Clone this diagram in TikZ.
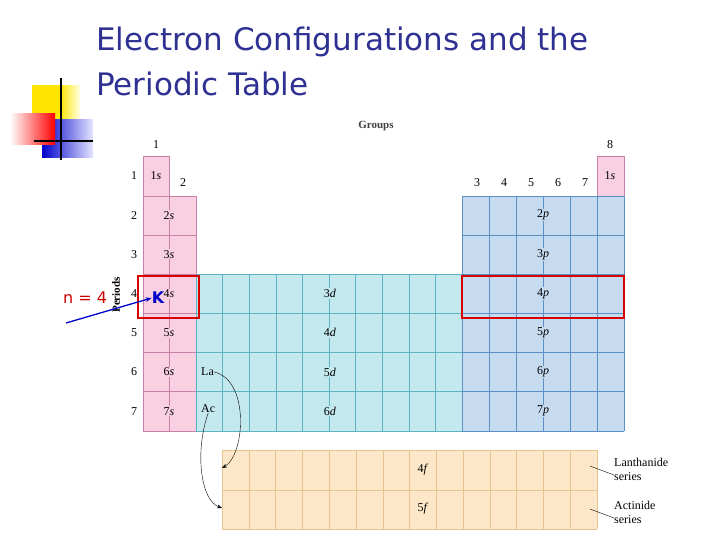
\documentclass[tikz,border=0pt]{standalone}
\usepackage{fontspec}
\setmainfont{Liberation Serif}
\newfontfamily\titlefont{DejaVu Sans}
\usetikzlibrary{arrows.meta}
\definecolor{titleblue}{HTML}{2E3192}
\definecolor{sfill}{HTML}{F8D0E2}
\definecolor{sline}{HTML}{C980A8}
\definecolor{dfill}{HTML}{C3E8EE}
\definecolor{dline}{HTML}{5CB4C2}
\definecolor{pfill}{HTML}{C6DAF0}
\definecolor{pline}{HTML}{5B90C6}
\definecolor{ffill}{HTML}{FCE7C8}
\definecolor{fline}{HTML}{E6C390}
\tikzset{
  lbl/.style={font=\fontsize{12}{13}\selectfont, inner sep=0pt},
  orb/.style={font=\fontsize{12}{13}\selectfont, inner sep=1pt, fill=#1},
  redbox/.style={draw=red!85!black, line width=2.2pt},
}
\begin{document}
\begin{tikzpicture}[x=1pt,y=-1pt]
\useasboundingbox (0,0) rectangle (720,540);
% decoration
\shade[left color=yellow!80!orange, right color=yellow!80!orange, middle color=yellow!80!orange] (32,86) rectangle (60,126);
\shade[left color=yellow!80!orange, right color=yellow!10] (60,86) rectangle (80,126);
\shade[left color=blue!80!black, right color=blue!10] (42,120) rectangle (93,158);
\shade[left color=white, right color=red] (10,114) rectangle (55,145);
\draw[line width=2pt] (61,78) -- (61,160);
\draw[line width=2pt] (34,141) -- (93,141);
% title
\node[anchor=west, text=titleblue, font=\titlefont\fontsize{31}{33}\selectfont, inner sep=0pt] (t1) at (96,42) {Electron Configurations and the};
\node[anchor=west, text=titleblue, font=\titlefont\fontsize{31}{33}\selectfont, inner sep=0pt] (t2) at (96,84) {Periodic Table};
% blocks
\fill[sfill] (143,156) rectangle (169,196) (143,196) rectangle (196,431) (597,156) rectangle (624,196);
\fill[dfill] (196,274) rectangle (462,431);
\fill[pfill] (462,196) rectangle (624,431);
\fill[ffill] (222,450) rectangle (597,529);
% s grid
\draw[sline] (143,156) rectangle (169,196) (597,156) rectangle (624,196) (143,196) rectangle (196,431) (169,156) -- (169,431);
\foreach \y in {235,274,313,352,391} \draw[sline] (143,\y) -- (196,\y);
% d grid
\foreach \i in {0,...,10} \draw[dline] (196+\i*26.6,274) -- (196+\i*26.6,431);
\foreach \y in {274,313,352,391,431} \draw[dline] (196,\y) -- (462,\y);
% p grid
\foreach \i in {0,...,6} \draw[pline] (462+\i*27,196) -- (462+\i*27,431);
\foreach \y in {196,235,274,313,352,391,431} \draw[pline] (462,\y) -- (624,\y);
% f grid
\foreach \i in {0,...,14} \draw[fline] (222+\i*26.786,450) -- (222+\i*26.786,529);
\foreach \y in {450,490,529} \draw[fline] (222,\y) -- (597,\y);
% labels
\node[lbl, font=\fontsize{11}{12}\selectfont\bfseries, text=black!75] (grp) at (376,126) {Groups};
\node[lbl] (g1) at (156,145) {1};
\node[lbl] (g2) at (183,183) {2};
\foreach \g [count=\k from 0] in {3,4,5,6,7} \node[lbl] (g\g) at (477+\k*27,183) {\g};
\node[lbl] (g8) at (610,145) {8};
\foreach \p [count=\k from 0] in {1,...,7} \node[lbl] (per\p) at (134,176+\k*39.2) {\p};
\node[lbl, rotate=90, font=\fontsize{11}{12}\selectfont\bfseries] (periods) at (116,295) {Periods};
\node[orb=sfill] (s1) at (156,176) {1\textit{s}};
\node[orb=sfill] (s8) at (610,176) {1\textit{s}};
\foreach \p in {2,...,7} \node[orb=sfill] (s\p) at (169,176+\p*39.2-39.2) {\p\textit{s}};
\foreach \p in {2,...,7} \node[orb=pfill] (p\p) at (543,176+\p*39.2-39.2) {\p\textit{p}};
\foreach \p [count=\k from 4] in {3,...,6} \node[orb=dfill] (d\p) at (330,176+\k*39.2-39.2) {\p\textit{d}};
\node[orb=ffill] (f4) at (423,470) {4\textit{f}};
\node[orb=ffill] (f5) at (423,509) {5\textit{f}};
\node[lbl, anchor=west] (la) at (201,372) {La};
\node[lbl, anchor=west] (ac) at (201,409) {Ac};
\coordinate (fa) at (222,468);
\coordinate (fb) at (222,508);
\draw[-{Stealth[length=5pt]}] (la.east) .. controls (250,380) and (245,455) .. (fa);
\draw[-{Stealth[length=5pt]}] (ac.south) .. controls (195,450) and (200,500) .. (fb);
\node[lbl, anchor=west, align=left, font=\fontsize{12}{14}\selectfont] (lan) at (614,469) {Lanthanide\\series};
\node[lbl, anchor=west, align=left, font=\fontsize{12}{14}\selectfont] (act) at (614,512) {Actinide\\series};
\coordinate (lanx) at (590,466);
\coordinate (actx) at (590,509);
\draw (lanx) -- ([yshift=-6pt]lan.west);
\draw (actx) -- ([yshift=-6pt]act.west);
% highlights
\draw[redbox] (138,276) rectangle (199,318);
\draw[redbox] (462,276) rectangle (624,318);
\node[text=red!80!black, font=\titlefont\fontsize{16}{17}\selectfont, inner sep=0pt] (n4) at (85,298) {n = 4};
\node[text=blue!80!black, font=\titlefont\bfseries\fontsize{16}{17}\selectfont, inner sep=0pt] (K) at (158,298) {K};
\coordinate (arr) at (66,323);
\draw[blue!80!black, line width=1.3pt, -{Stealth[length=6pt]}] (arr) -- (K.west);
\end{tikzpicture}
\end{document}
